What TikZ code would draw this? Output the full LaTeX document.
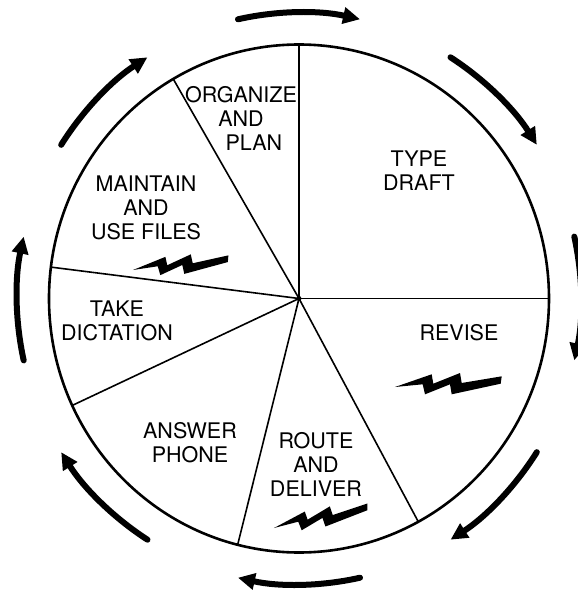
\documentclass[tikz,border=0pt]{standalone}
\usepackage{fontspec}
\setmainfont{TeX Gyre Heros}
\usetikzlibrary{arrows.meta}

\tikzset{
  task/.style = {align=center, inner sep=0pt, font=\fontsize{21.5}{24}\selectfont},
  spoke/.style = {line width=1.6pt},
  cyclearrow/.style = {line width=6pt, line cap=round, -{Triangle[length=17pt,width=16pt]}},
  bolt/.pic = {
    \fill (0,0) -- (36.7,12.7) -- (38.3,3.3) -- (65,14) -- (66.7,4) -- (106.7,10.7)
      -- (105.7,3.3) -- (56.7,-7.3) -- (55,2.7) -- (30,-7.3) -- (27.7,2.7) -- cycle;
  }
}

\begin{document}
\begin{tikzpicture}[x=1pt, y=1pt]
    \useasboundingbox (-299,-296.5) rectangle (279,298.5);

    % wheel
    \coordinate (c) at (0,0);
    \draw[line width=2.6pt] (c) circle [x radius=250, y radius=254];
    \foreach \a [count=\i] in {90, 0, -61.5, -104.2, 204.9, 172.9, 120.2}
      \coordinate (rim\i) at (\a:250 and 254);
    \foreach \i in {1,...,7}
      \draw[spoke] (c) -- (rim\i);
    \fill (c) circle (2.5);

    % sectors
    \node[task] (org)    at (-58,180.5)  {ORGANIZE\\AND\\\hspace*{1.2em}PLAN};
    \node[task] (type)   at (120,127.5)  {TYPE\\DRAFT};
    \node[task] (revise) at (160,-34.5)  {REVISE};
    \node[task] (route)  at (17,-165.5)  {ROUTE\\AND\\DELIVER};
    \node[task] (answer) at (-109,-144.5) {ANSWER\\PHONE};
    \node[task] (take)   at (-182,-22.5) {TAKE\\DICTATION};
    \node[task] (maint)  at (-153,90.5)  {MAINTAIN\\AND\\USE FILES};

    \pic at (96,-88.5) {bolt};
    \pic[scale=.9, rotate=3] at (-166,28.5) {bolt};
    \pic[scale=.9, rotate=9] at (-25,-229.5) {bolt};

    % arrows round the wheel
    \foreach \a in {90,45,...,-225}
      \draw[cyclearrow] (\a+12.5:282 and 286)
        arc [start angle=\a+12.5, end angle=\a-12.5, x radius=282, y radius=286];
\end{tikzpicture}
\end{document}
